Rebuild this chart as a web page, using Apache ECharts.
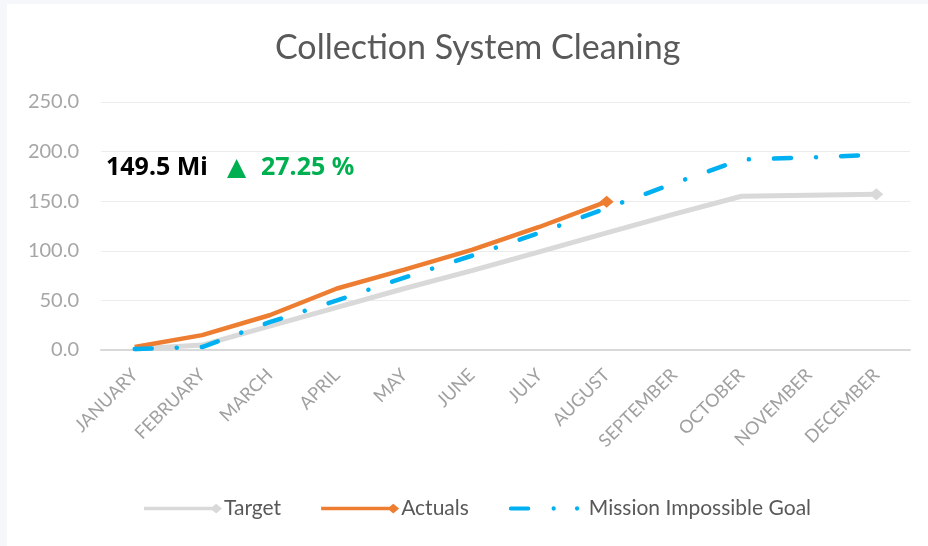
<!DOCTYPE html>
<html>
<head>
<meta charset="utf-8">
<script src="https://cdn.jsdelivr.net/npm/echarts@6/dist/echarts.min.js"></script>
<style>
html,body{margin:0;padding:0;background:#f6f7fb;}
#c{width:928px;height:546px;}
</style>
</head>
<body>
<div id="c"></div>
<script>
const months = ['JANUARY','FEBRUARY','MARCH','APRIL','MAY','JUNE','JULY','AUGUST','SEPTEMBER','OCTOBER','NOVEMBER','DECEMBER'];
const target = [1, 5, 24, 43, 62, 80, 99, 118, 137, 155, 156, 157];
const actuals = [3, 15, 35, 62, 81, 101, 124, 149.5];
const goal = [1, 3, 28, 50, 73, 95, 118, 143, 168, 192, 194, 197];
const yTicks = [0, 50, 100, 150, 200, 250];
const headline = '149.5 Mi';
const change = '27.25 %';

function withEnd(arr, sym, size) {
  return arr.map((v, i) => i === arr.length - 1
    ? { value: v, symbol: sym, symbolSize: size }
    : v);
}

const lineDiamondIcon = 'path://M0,3.2L70,3.2L70,6.8L0,6.8Z M68,5L74,0L80,5L74,10Z';
const dashDotIcon = 'path://M2,3L20,3A2,2 0 0 1 20,7L2,7A2,2 0 0 1 2,3Z M46,5m-2.2,0a2.2,2.2 0 1 0 4.4,0a2.2,2.2 0 1 0 -4.4,0Z M70,5m-2.2,0a2.2,2.2 0 1 0 4.4,0a2.2,2.2 0 1 0 -4.4,0Z M80,5L80,5.01Z';

const chart = echarts.init(document.getElementById('c'), null, { renderer: 'canvas' });
const font = 'Lato, "Open Sans", sans-serif';
const boldFont = '"Noto Sans", "Open Sans", sans-serif';
chart.setOption({
  backgroundColor: 'transparent',
  animation: false,
  textStyle: { fontFamily: font },
  graphic: [
    { type: 'rect', shape: { x: 7, y: 4, width: 921, height: 542 }, style: { fill: '#ffffff' }, z: -10 },
    { type: 'text', x: 106, y: 168, style: { text: headline, fontSize: 25, fontWeight: 'bold', fill: '#000000', fontFamily: boldFont, verticalAlign: 'middle' } },
    { type: 'text', x: 227, y: 168, style: { text: '▲', fontSize: 25, fill: '#00b050', fontFamily: 'DejaVu Sans', verticalAlign: 'middle' } },
    { type: 'text', x: 261, y: 168, style: { text: change, fontSize: 25, fontWeight: 'bold', fill: '#00b050', fontFamily: boldFont, verticalAlign: 'middle' } }
  ],
  title: {
    text: 'Collection System Cleaning',
    left: 270, top: 26,
    textStyle: { fontSize: 34, fontWeight: 'normal', color: '#595959', fontFamily: font }
  },
  legend: {
    bottom: 22, left: 139,
    itemWidth: 78, itemHeight: 10, itemGap: 40,
    textStyle: { fontSize: 21, color: '#595959', fontFamily: font, padding: [0, 0, 0, -3] },
    data: [
      { name: 'Target', icon: lineDiamondIcon },
      { name: 'Actuals', icon: lineDiamondIcon },
      { name: 'Mission Impossible Goal', icon: dashDotIcon }
    ]
  },
  grid: { left: 101, right: 18, top: 102, bottom: 196, outerBoundsMode: 'none', containLabel: false },
  xAxis: {
    type: 'category', data: months, boundaryGap: true,
    axisLine: { lineStyle: { color: '#d9d9d9', width: 2 } },
    axisTick: { show: false },
    axisLabel: { rotate: 45, color: '#a0a0a0', fontSize: 18, fontFamily: font, margin: 22, interval: 0, hideOverlap: false }
  },
  yAxis: {
    type: 'value', min: 0, max: 250, interval: 50,
    axisLine: { show: false }, axisTick: { show: false },
    splitLine: { lineStyle: { color: '#ececec', width: 1 } },
    axisLabel: { color: '#a6a6a6', fontSize: 20, fontFamily: font, margin: 22, formatter: v => yTicks.includes(v) ? v.toFixed(1) : '' }
  },
  series: [
    {
      name: 'Target', type: 'line', data: withEnd(target, 'diamond', [14, 12]),
      symbol: 'none', showSymbol: true,
      lineStyle: { color: '#d9d9d9', width: 5 }, itemStyle: { color: '#d9d9d9' },
      z: 1
    },
    {
      name: 'Actuals', type: 'line', data: withEnd(actuals, 'diamond', [14, 12]),
      symbol: 'none', showSymbol: true,
      lineStyle: { color: '#ed7d31', width: 4.5 }, itemStyle: { color: '#ed7d31' },
      z: 3
    },
    {
      name: 'Mission Impossible Goal', type: 'line', data: goal,
      symbol: 'none',
      lineStyle: { color: '#00b0f0', width: 4.5, type: [17, 25, 0.1, 25], cap: 'round' },
      itemStyle: { color: '#00b0f0' },
      z: 4
    }
  ]
});
</script>
</body>
</html>
